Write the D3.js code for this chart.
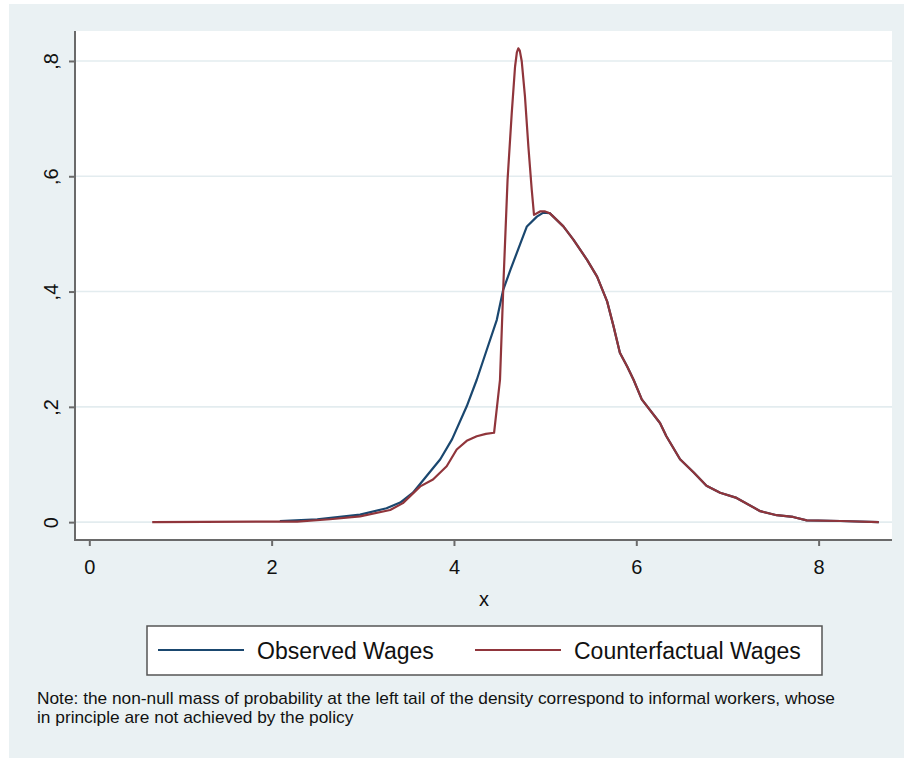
<!DOCTYPE html>
<html>
<head>
<meta charset="utf-8">
<script src="https://cdn.jsdelivr.net/npm/d3@7"></script>
<style>
  body { margin: 0; background: #ffffff; }
  svg text { font-family: "Liberation Sans", Arial, sans-serif; fill: #111; }
</style>
</head>
<body>
<div id="chart"></div>
<script>
// density estimates
var observedX = [2.09, 2.50, 2.97, 3.26, 3.41, 3.55, 3.70, 3.85, 3.98, 4.14, 4.25, 4.36, 4.47, 4.54, 4.62, 4.73, 4.80, 4.91, 4.98,
                 5.05, 5.20, 5.31, 5.46, 5.57, 5.68, 5.75, 5.82, 5.90, 5.97, 6.06, 6.26, 6.33, 6.48, 6.63, 6.77, 6.92, 7.10, 7.36, 7.54, 7.72, 7.87, 8.24, 8.66];
var observedY = [0.002, 0.005, 0.013, 0.024, 0.034, 0.051, 0.080, 0.109, 0.144, 0.201, 0.247, 0.299, 0.351, 0.403, 0.438, 0.484, 0.513, 0.530, 0.537,
                 0.536, 0.513, 0.490, 0.455, 0.426, 0.383, 0.340, 0.294, 0.270, 0.247, 0.213, 0.172, 0.149, 0.109, 0.086, 0.063, 0.051, 0.042, 0.019, 0.012, 0.009, 0.003, 0.002, 0.000];

var counterX = [0.69, 2.09, 2.28, 2.64, 2.97, 3.30, 3.44, 3.63, 3.77, 3.92, 4.03, 4.14, 4.25, 4.35, 4.44, 4.505, 4.544, 4.588, 4.634, 4.670, 4.690, 4.706, 4.722, 4.743, 4.779, 4.816, 4.853, 4.878, 4.944, 5.00,
                5.05, 5.20, 5.31, 5.46, 5.57, 5.68, 5.75, 5.82, 5.90, 5.97, 6.06, 6.26, 6.33, 6.48, 6.63, 6.77, 6.92, 7.10, 7.36, 7.54, 7.72, 7.87, 8.24, 8.66];
var counterY = [0.000, 0.001, 0.001, 0.005, 0.010, 0.021, 0.033, 0.062, 0.074, 0.097, 0.126, 0.141, 0.149, 0.153, 0.155, 0.247, 0.420, 0.594, 0.710, 0.790, 0.815, 0.822, 0.818, 0.800, 0.738, 0.652, 0.577, 0.533, 0.539, 0.539,
                0.536, 0.513, 0.490, 0.455, 0.426, 0.383, 0.340, 0.294, 0.270, 0.247, 0.213, 0.172, 0.149, 0.109, 0.086, 0.063, 0.051, 0.042, 0.019, 0.012, 0.009, 0.003, 0.002, 0.000];

var yTicks = [0, 0.2, 0.4, 0.6, 0.8];
var yTickLabels = ["0", ",2", ",4", ",6", ",8"];
var xTicks = [0, 2, 4, 6, 8];
var seriesNames = ["Observed Wages", "Counterfactual Wages"];
var seriesColors = ["#1a476f", "#90353b"];
var noteLines = ["Note: the non-null mass of probability at the left tail of the density correspond to informal workers, whose",
                 "in principle are not achieved by the policy"];

var width = 904,
    height = 758;

var svg = d3.select("#chart")
    .append("svg")
    .attr("width", width)
    .attr("height", height);

// graph region
svg.append("rect")
    .attr("x", 9).attr("y", 4)
    .attr("width", width - 9).attr("height", height - 4)
    .attr("fill", "#eaf1f3");

var plotL = 75, plotR = 892, plotT = 31, plotB = 540;

svg.append("rect")
    .attr("x", plotL).attr("y", plotT)
    .attr("width", plotR - plotL).attr("height", plotB - plotT)
    .attr("fill", "#ffffff");

var x = d3.scaleLinear().domain([-0.157, 8.805]).range([plotL, plotR]);
var y = d3.scaleLinear().domain([-0.031, 0.852]).range([plotB, plotT]);

// grid lines
svg.append("g")
    .selectAll("line")
    .data(yTicks)
    .enter()
    .append("line")
    .attr("x1", plotL).attr("x2", plotR)
    .attr("y1", function (d) { return y(d); })
    .attr("y2", function (d) { return y(d); })
    .attr("stroke", "#e3ecef")
    .attr("stroke-width", 1.6);

// y axis
var yAxis = svg.append("g")
    .attr("transform", "translate(" + plotL + ",0)")
    .call(d3.axisLeft(y).tickValues(yTicks).tickSize(6).tickPadding(0)
        .tickFormat(function (d, i) { return yTickLabels[i]; }));
yAxis.select(".domain").remove();
yAxis.selectAll(".tick line").attr("stroke", "#6a6a6a").attr("stroke-width", 2);
yAxis.selectAll(".tick text")
    .attr("x", null).attr("dy", null)
    .attr("transform", "translate(-17,0) rotate(-90)")
    .attr("text-anchor", "middle")
    .style("font-size", "20px")
    .attr("fill", "#111");

// x axis
var xAxis = svg.append("g")
    .attr("transform", "translate(0," + plotB + ")")
    .call(d3.axisBottom(x).tickValues(xTicks).tickSize(6).tickPadding(0).tickFormat(d3.format("d")));
xAxis.select(".domain").remove();
xAxis.selectAll(".tick line").attr("stroke", "#6a6a6a").attr("stroke-width", 2);
xAxis.selectAll(".tick text")
    .attr("y", 34).attr("dy", null)
    .style("font-size", "20px")
    .attr("fill", "#111");

svg.append("line")
    .attr("x1", plotL).attr("x2", plotL).attr("y1", plotT).attr("y2", plotB + 1)
    .attr("stroke", "#6a6a6a").attr("stroke-width", 2);
svg.append("line")
    .attr("x1", plotL - 1).attr("x2", plotR).attr("y1", plotB).attr("y2", plotB)
    .attr("stroke", "#6a6a6a").attr("stroke-width", 2);

svg.append("text")
    .attr("x", 484).attr("y", 606)
    .attr("text-anchor", "middle")
    .style("font-size", "20px")
    .text("x");

// density lines
var line = d3.line()
    .x(function (d) { return x(d[0]); })
    .y(function (d) { return y(d[1]); });

var series = [d3.zip(observedX, observedY), d3.zip(counterX, counterY)];

svg.append("g")
    .selectAll("path")
    .data(series)
    .enter()
    .append("path")
    .attr("fill", "none")
    .attr("stroke", function (d, i) { return seriesColors[i]; })
    .attr("stroke-width", 2.2)
    .attr("stroke-linejoin", "round")
    .attr("d", line);

// legend
svg.append("rect")
    .attr("x", 147).attr("y", 626)
    .attr("width", 675).attr("height", 49)
    .attr("fill", "#ffffff")
    .attr("stroke", "#555")
    .attr("stroke-width", 1.5);

var legendX = [158, 475];
var leg = svg.append("g")
    .selectAll("g")
    .data(seriesNames)
    .enter()
    .append("g")
    .attr("transform", function (d, i) { return "translate(" + legendX[i] + ",650)"; });
leg.append("line")
    .attr("x1", 0).attr("x2", 86)
    .attr("stroke", function (d, i) { return seriesColors[i]; })
    .attr("stroke-width", 2.2);
leg.append("text")
    .attr("x", 99).attr("y", 9)
    .style("font-size", "23px")
    .text(function (d) { return d; });

// note (slightly widened to match the original's text width)
svg.append("g")
    .attr("transform", "translate(37,0) scale(1.03,1)")
    .selectAll("text")
    .data(noteLines)
    .enter()
    .append("text")
    .attr("x", 0)
    .attr("y", function (d, i) { return 704 + i * 19.5; })
    .style("font-size", "16.8px")
    .text(function (d) { return d; });
</script>
</body>
</html>
